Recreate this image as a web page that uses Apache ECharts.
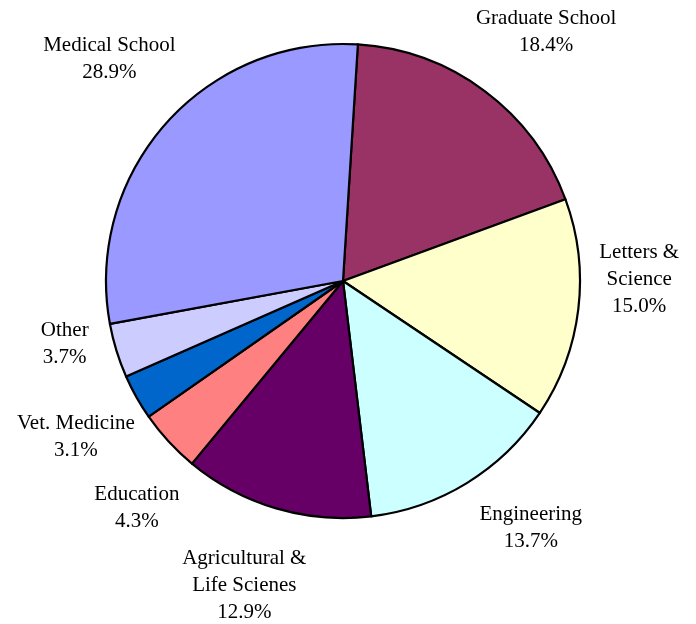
<!DOCTYPE html>
<html>
<head>
<meta charset="utf-8">
<script src="https://cdn.jsdelivr.net/npm/echarts@6/dist/echarts.min.js"></script>
<style>
  html, body { margin: 0; padding: 0; background: #fff; }
  #chart { width: 696px; height: 624px; }
</style>
</head>
<body>
<div id="chart"></div>
<script>
  // share of total, clockwise from just right of 12 o'clock
  const names = ["Graduate School", "Letters &\nScience", "Engineering", "Agricultural &\nLife Scienes",
                 "Education", "Vet. Medicine", "Other", "Medical School"];
  const shares = [18.4, 15.0, 13.7, 12.9, 4.3, 3.1, 3.7, 28.9];
  const colors = ["#993366", "#FFFFCC", "#CCFFFF", "#660066", "#FF8080", "#0066CC", "#CCCCFF", "#9999FF"];

  // label placement tweaks (degrees off the slice's mid angle, px off the default gap)
  const labelTurn = [2.5, -7.2, -5.7, 1.6, -5.1, -1, 4.4, 2];
  const labelPull = [0, 0, 2, 6, 2, -11, 0, 0];

  const CX = 343, CY = 281, R = 237, START = 86.4, GAP = 19;
  const total = shares.reduce((a, b) => a + b, 0);

  // mid angle of each slice, measured clockwise from 12 o'clock
  const mids = [];
  let acc = 0;
  shares.forEach((s) => {
    mids.push((90 - START) + (acc + s / 2) / total * 360);
    acc += s;
  });

  const chart = echarts.init(document.getElementById("chart"), null, { renderer: "canvas" });
  chart.setOption({
    animation: false,
    series: [{
      type: "pie",
      center: [CX, CY],
      radius: R,
      startAngle: START,
      clockwise: true,
      avoidLabelOverlap: false,
      data: shares.map((v, i) => ({ name: names[i], value: v, itemStyle: { color: colors[i] } })),
      itemStyle: { borderColor: "#000", borderWidth: 2.2 },
      emphasis: { disabled: true },
      labelLine: { show: false },
      label: {
        show: true,
        position: "outside",
        color: "#000",
        fontFamily: "Liberation Serif",
        fontSize: 21,
        lineHeight: 27,
        formatter: (p) => p.name + "\n" + shares[p.dataIndex].toFixed(1) + "%",
      },
      labelLayout: (p) => {
        const i = p.dataIndex;
        const a = (mids[i] + labelTurn[i]) * Math.PI / 180;
        const ux = Math.sin(a), uy = -Math.cos(a);
        const w = p.labelRect.width, h = p.labelRect.height;
        const d = R + GAP + labelPull[i] + Math.abs(ux) * w / 2 + Math.abs(uy) * h / 2;
        return { x: CX + ux * d, y: CY + uy * d, align: "center", verticalAlign: "middle" };
      },
    }],
  });
</script>
</body>
</html>
